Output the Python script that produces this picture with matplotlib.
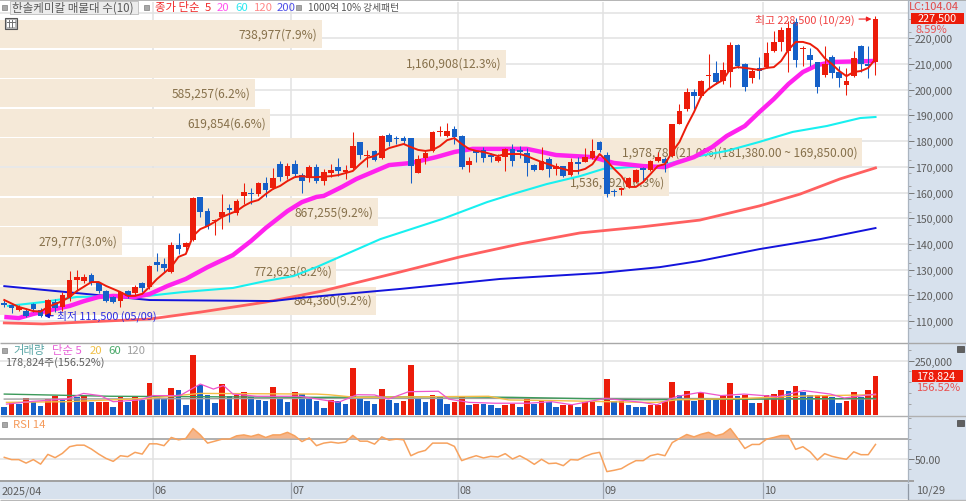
import numpy as np
import matplotlib
matplotlib.use('Agg')
import matplotlib.pyplot as plt
from matplotlib.patches import Rectangle

plt.rcParams['font.family'] = ['Noto Sans CJK KR', 'DejaVu Sans']

# ---- candles, thousands of won ----
opens = [116.8,116.3,114.3,113.9,116.6,114.3,112.0,117.4,115.5,119.4,126.0,125.6,128.0,124.8,121.7,119.4,117.8,121.7,120.9,124.8,123.3,
         133.0,132.2,129.1,139.6,138.8,141.6,158.3,152.8,148.9,150.5,154.0,152.0,158.7,159.8,159.4,163.7,161.8,171.1,166.4,171.1,166.8,165.7,169.9,
         164.5,167.6,169.9,168.0,169.6,179.7,174.2,176.2,173.5,182.4,181.2,181.2,181.2,167.6,173.5,176.2,183.5,182.0,184.7,182.0,170.7,176.2,
         176.6,174.6,172.3,173.8,176.9,176.6,175.4,170.7,168.8,173.1,169.2,170.3,166.8,171.5,171.9,173.5,179.7,174.6,160.6,161.0,162.2,164.1,169.2,168.8,172.3,
         173.1,174.2,186.7,192.5,199.1,197.6,205.3,206.5,203.4,206.9,217.4,210.0,204.6,208.5,208.8,215.1,218.6,215.1,226.4,215.8,213.5,210.8,205.7,212.7,206.9,
         201.8,205.3,217.0,210.0,210.8]
closes = [116.4,115.1,115.5,112.0,114.7,112.0,118.2,115.1,120.2,126.0,127.2,127.2,124.8,121.7,117.8,117.4,121.3,119.8,123.3,122.9,131.4,
          131.8,130.7,139.6,138.0,140.4,157.9,152.4,147.0,149.3,152.4,153.2,156.7,160.2,159.4,163.7,161.0,165.7,166.0,170.3,167.2,164.5,169.9,164.5,
          168.0,168.8,168.4,168.4,178.1,174.6,174.6,172.7,182.0,179.7,180.8,180.0,170.3,173.1,175.4,183.6,183.9,184.0,181.6,169.9,172.3,175.4,
          173.5,173.8,173.8,176.9,172.3,175.8,171.5,168.8,172.3,169.2,170.3,166.4,171.9,171.1,173.8,176.2,176.6,159.4,160.2,161.4,165.7,168.8,168.8,172.3,173.8,
          171.5,186.7,191.7,199.1,197.6,203.4,205.7,203.0,207.7,217.4,209.2,201.1,207.3,207.3,214.3,218.6,223.2,224.0,211.6,216.2,211.6,201.1,210.0,206.5,204.6,
          203.4,212.3,210.0,209.2,227.5]
highs = [118.6,116.6,116.3,115.1,117.0,115.1,118.6,118.6,121.3,129.5,129.9,128.3,128.7,125.2,122.1,119.8,121.7,122.1,124.0,125.2,131.8,
         136.5,134.5,140.8,144.3,140.8,158.3,158.3,154.0,149.7,159.4,155.6,157.5,163.7,161.8,164.1,166.0,169.6,172.3,171.5,172.7,167.6,170.7,171.1,
         169.2,171.1,173.4,170.7,183.6,179.7,176.6,176.6,182.4,183.2,182.0,182.0,181.2,174.6,176.6,184.0,185.9,187.1,185.9,182.4,173.8,176.2,
         177.7,175.4,175.0,177.3,178.9,178.1,177.3,171.1,177.7,173.8,171.5,170.3,173.4,173.8,177.3,180.8,180.1,175.8,161.4,162.2,166.0,169.2,170.0,172.7,175.8,
         173.8,186.7,194.5,200.7,200.3,203.8,213.9,211.2,210.8,218.6,217.8,210.4,208.5,212.7,218.6,222.8,224.4,226.7,228.0,217.0,216.2,210.8,217.0,213.5,209.2,
         208.5,215.1,217.4,217.0,228.5]
lows = [115.5,113.2,113.9,111.6,113.5,111.5,111.5,113.5,113.9,117.8,121.7,124.8,124.0,120.9,117.4,117.0,115.5,119.0,120.2,121.3,122.5,
        129.5,129.1,128.7,136.1,136.9,141.2,150.5,145.8,143.5,145.8,148.6,151.3,155.6,155.6,158.7,158.3,161.4,164.5,165.3,166.0,159.8,164.1,163.7,
        162.9,166.0,166.4,165.3,169.2,173.1,169.9,172.3,173.1,178.1,178.9,178.9,163.7,167.6,171.1,175.8,182.0,181.6,178.9,169.2,168.0,171.9,
        171.9,171.9,171.9,168.4,170.3,173.5,166.4,168.4,168.8,166.0,166.8,166.0,166.4,167.2,171.9,173.1,175.8,158.3,158.7,159.1,161.8,163.7,164.5,168.4,171.9,
        168.0,173.8,186.7,191.7,192.5,197.2,200.3,202.2,202.2,201.1,208.5,199.5,202.6,204.2,208.5,214.7,215.1,206.9,208.8,209.2,209.2,198.7,205.0,204.6,201.1,
        198.0,205.0,206.9,204.6,205.7]

# ---- price moving averages: anchors (index, thousands) ----
ma5_i = [0,2,4,5,6,8,9,10,12,13,14,15,16,17,18,19,20,21,23,24,25,26,27,28,29,30,31,32,33,34,35,36,37,38,39,40,41,42,43,45,46,47,48,49,50,51,52,53,54,55,56,57,58,59,60,61,62,63,64,65,66,67,68,69,70,71,72,73,74,75,76,77,78,79,80,81,82,83,84,85,86,87,88,89,90,91,92,93,94,95,96,97,98,99,100,101,102,103,104,105,106,107,108,109,110,111,112,113,114,115,116,117,118,119,120]
ma5_v = [118.2,115.5,113.9,113.7,115.5,117.8,119.4,121.7,125.2,125.2,123.7,122.5,121.3,119.8,119.8,120.6,123.3,126.3,131.1,135.0,136.1,143.1,145.8,147.0,148.6,150.5,151.7,152.8,154.8,156.3,157.1,159.4,161.4,162.6,164.5,166.0,166.4,166.0,166.0,166.4,166.8,167.6,168.4,171.1,173.5,174.2,175.8,177.3,178.1,178.9,177.7,176.6,176.2,176.6,178.1,180.4,181.2,178.9,177.0,176.2,175.8,175.0,174.2,175.0,175.0,175.0,174.2,173.0,171.9,171.0,169.9,169.2,168.4,168.4,169.2,171.0,175.0,172.3,169.2,166.4,162.2,162.2,164.1,167.2,170.3,171.1,175.8,179.7,185.9,191.3,197.6,200.3,202.2,203.8,208.1,208.8,208.5,208.1,207.7,208.5,208.8,211.2,215.5,218.6,218.6,217.8,215.8,212.3,210.0,207.3,205.3,206.9,207.3,208.5,212.0]
ma20_i = [0,2,4,7,9,11,13,15,18,20,22.5,25,28,31.5,34,36,39,41,43,44,46.5,48.5,53,56,59.5,62,64.5,72,76,81,84,88,91,92.5,95,97.5,99.5,102,104,106,108,110,112,114,120]
ma20_v = [111.6,111.2,112.8,114.7,115.9,117.8,119.4,119.8,119.4,120.5,123.7,126.4,131.0,135.7,141.2,146.2,152.8,156.3,158.3,158.7,162.2,165.3,170.7,171.5,173.8,175.8,177.0,177.0,174.6,173.8,171.5,170.3,169.9,171.5,173.8,177.7,182.0,185.9,191.3,196.4,202.2,206.9,209.6,210.8,211.2]
ma60_i = [0.5,5.3,10,19.7,24.6,31.5,36,39.8,43,51.8,60.3,66.5,70,74.7,79.3,82.5,86.2,90.3,94.9,99.5,104,108.6,113.3,117.9,120]
ma60_v = [115.9,117.4,119.4,119.8,121.3,122.9,125.6,127.5,131.0,141.9,149.7,156.3,159.4,163.3,166.4,169.2,169.9,170.3,173.8,176.2,179.7,183.6,185.9,189.0,189.4]
ma120_i = [0,5.3,20,27,36,43.8,54.5,62.8,71,79.3,87.6,95.8,104,109.6,115.1,120]
ma120_v = [109.3,108.9,110.8,113.5,117.4,121.7,129.1,135.0,140.0,144.3,146.6,149.3,154.8,159.4,165.3,169.6]
ma200_i = [0,20,37,40.7,54.5,68.3,82,90.3,95.8,104,112.4,120]
ma200_v = [123.6,118.2,117.8,119.0,122.5,126.4,128.7,131.0,133.4,138.0,141.9,146.2]

# ---- price-band volume profile ----
vp_vol = [738977,1160908,585257,619854,1978787,1536792,867255,279777,772625,864360]
vp_pct = ['7.9','12.3','6.2','6.6','21.0','16.3','9.2','3.0','8.2','9.2']
vp_mid = [221.7,210.2,198.7,187.1,175.6,164.1,152.6,141.0,129.5,118.0]
vp_range = {4: '(181,380.00 ~ 169,850.00)'}

# ---- volume, thousands of shares ----
volumes = [38,58,50,78,61,43,73,86,69,165,84,89,58,58,58,38,81,61,81,69,145,86,73,124,116,47,277,138,92,55,141,89,92,104,81,69,63,127,80,58,104,96,73,63,31,
           70,66,50,214,78,63,50,119,69,55,63,231,78,58,92,81,50,58,81,46,50,49,48,31,46,50,38,78,50,66,58,38,47,48,38,58,58,43,165,63,66,46,38,35,
           46,47,63,150,92,112,66,101,76,73,86,145,89,93,55,55,93,96,116,112,133,104,93,93,93,84,55,63,104,81,116,178.824]
vma5_i = [0.3,4,8.6,10.9,13.2,15,18.7,20.5,24.2,27,28.8,30.2,31.5,34.8,40.7,46,48.6,51,52.9,55.7,59.8,61.2,64,67.6,72.2,75.4,78.2,82.8,87.8,89.9,92.7,95.9,98.7,101.9,106.5,110.1,113.8,115.7,120]
vma5_v = [50,63,73,99,89,61,69,89,89,142,119,135,96,86,86,58,93,92,73,107,109,73,58,54,54,61,47,76,58,47,86,104,89,96,84,112,96,78,96]
vma20_i = [0.3,8.6,19.6,27,43,44.7,48.4,66.7,69.5,75.9,87.8,89.9,92.7,101.9,108.8,120]
vma20_v = [58,61,76,99,96,93,81,86,69,66,58,58,70,76,86,93]
vma60_i = [0,14.6,43,60,70,88,120]
vma60_v = [96,86,81,84,81,70,76]
vma120_i = [0,43,88,120]
vma120_v = [73,76,76,74]

# ---- RSI ----
rsi = [51.6,49.4,49.4,46,49.4,45,54.5,51.3,55.5,62,63.5,63.5,59.7,54.8,50.6,47.7,53.2,52.3,56.5,54.8,64.8,64.8,63,71,68.7,70,79.7,73.5,65.5,67.4,69.4,69.4,72.6,73.5,72,74,71,73.5,73.5,76,72.6,67,70.6,63,65.5,
       66.5,65.5,66.5,73,67.4,67.4,64.5,71.6,68.4,69.4,68.7,53.2,56.5,58.4,65.5,65.5,65.5,62.3,48.4,51,53.2,51,52.6,52,55.2,50,53.2,49.4,44.8,49.7,45.5,46,43.5,49.4,49,52.6,55.2,56.5,37.7,39,40.6,44.8,48.4,48.4,
       53.2,54.8,53.2,66,70,73.9,71.6,74.2,76,72.6,74.5,79.7,70.3,60.3,64.2,64.2,69.4,71,72.9,72.9,59.4,62,57,49,55.2,52.6,51,49.7,57,54.2,54.2,64.2]

price_ticks = [110,120,130,140,150,160,170,180,190,200,210,220]
price_grid_extra = [230]
month_pos = [20.5,39.5,62.5,82.5,104.5]
month_labels = ['06','07','08','09','10']

# ---- colours and layout (pixels of a 966 x 502 canvas) ----
RED = '#ec1c0a'; BLUE = '#1560c8'; GRID = '#e2e2e2'; BEIGE = '#f5e9d8'; PANEL = '#d7e1ed'; FRAME = '#a8a8a8'
TXT = '#5c5c5c'; BROWN = '#86704a'
W, H = 966, 502
X0, DX = 4.3, 7.26
PLOT_R = 908
ROW = 28 / 2.57

fig = plt.figure(figsize=(W/100, H/100), dpi=100, facecolor='white')
def pos(x0, y0, x1, y1):
    return [x0/W, 1 - y1/H, (x1-x0)/W, (y1-y0)/H]

fig.patches.append(Rectangle((PLOT_R/W, 0), 1-PLOT_R/W, 1, transform=fig.transFigure, fc=PANEL, ec='none', zorder=0))
fig.patches.append(Rectangle((0, 1-500/H), 1, (500-483)/H, transform=fig.transFigure, fc=PANEL, ec='none', zorder=0))

xlim = ((0-X0)/DX, (PLOT_R-X0)/DX)
def p_at(y):
    return 235.3 - 0.389*y
ylim = (p_at(343), p_at(3))

# background grid layer
ax_bg = fig.add_axes(pos(0, 3, PLOT_R, 343), zorder=1, facecolor='white')
ax_bg.set_xlim(xlim); ax_bg.set_ylim(ylim)
for v in price_ticks + price_grid_extra:
    ax_bg.axhline(v, color=GRID, lw=1.1, zorder=0)
for m in month_pos:
    ax_bg.axvline(m, color=GRID, lw=1.1, zorder=0)
ax_bg.set_xticks([]); ax_bg.set_yticks([])
for s in ax_bg.spines.values():
    s.set_visible(False)

# volume-profile layer
ax_vp = fig.add_axes(pos(0, 3, PLOT_R, 343), zorder=2, facecolor='none')
ax_vp.set_xlim(0, PLOT_R/0.4355*1000); ax_vp.set_ylim(ylim)
ax_vp.barh(vp_mid, vp_vol, height=ROW, color=BEIGE, edgecolor='none', zorder=1)
for v, pct, m, k in zip(vp_vol, vp_pct, vp_mid, range(len(vp_vol))):
    s = f'{v:,}({pct}%)' + vp_range.get(k, '')
    ax_vp.annotate(s, xy=(v, m), xytext=(-3, 0), textcoords='offset points', ha='right', va='center',
                   fontsize=8.6, color=BROWN, fontweight='medium', zorder=2)
ax_vp.axis('off')

# price layer
ax = fig.add_axes(pos(0, 3, PLOT_R, 343), zorder=3, facecolor='none')
ax.set_xlim(xlim); ax.set_ylim(ylim)
ax.plot(ma120_i, ma120_v, color='#ff6060', lw=2.0, zorder=2)
ax.plot(ma200_i, ma200_v, color='#1414dc', lw=1.4, zorder=2)
ax.plot(ma60_i, ma60_v, color='#18f0f0', lw=1.5, zorder=2)
ax.plot(ma20_i, ma20_v, color='#ff22ee', lw=3.2, zorder=3, solid_capstyle='butt')

idx = np.arange(len(opens))
o, c, h, l = map(np.array, (opens, closes, highs, lows))
up = c >= o
cols = np.where(up, RED, BLUE)
ax.vlines(idx, l, h, colors=cols, lw=0.75, zorder=4)
body = np.maximum(np.abs(c-o), 0.6)
ax.bar(idx, body, bottom=np.minimum(o, c), width=0.78, color=cols, edgecolor='none', zorder=5)
ax.plot(ma5_i, ma5_v, color='#ec1c0a', lw=1.4, zorder=6)

ax.yaxis.tick_right()
ax.set_yticks(price_ticks)
ax.set_yticklabels([f'{v*1000:,}' for v in price_ticks], fontsize=7.6, color=TXT)
ax.set_yticks(np.arange(107.5, 230, 5), minor=True)
ax.tick_params(axis='y', which='major', length=4, width=0.7, color='#777', pad=1)
ax.tick_params(axis='y', which='minor', length=2, width=0.6, color='#999')
ax.set_xticks([])
for s in ax.spines.values():
    s.set_visible(False)

i_hi = int(np.argmax(h)); i_lo = int(np.argmin(l))
ax.annotate(f'최고 {h[i_hi]*1000:,.0f} (10/29)', xy=(i_hi-0.55, c[i_hi]), xytext=(-12, 0), textcoords='offset points',
            ha='right', va='center', fontsize=7.8, color='#f04040', zorder=8,
            arrowprops=dict(arrowstyle='-|>', color='#f02020', lw=0.8, shrinkA=1, shrinkB=0, mutation_scale=7))
ax.annotate(f'최저 {l[i_lo]*1000:,.0f} (05/09)', xy=(i_lo+0.5, l[i_lo]+0.6), xytext=(9.5, 0), textcoords='offset points',
            ha='left', va='center', fontsize=7.8, color='#2a2ae0', zorder=8,
            arrowprops=dict(arrowstyle='-|>', color='#1010d0', lw=0.8, shrinkA=1, shrinkB=0, mutation_scale=7))

# volume panel
ax_v = fig.add_axes(pos(0, 344, PLOT_R, 416), zorder=3, facecolor='white')
ax_v.set_xlim(xlim)
ax_v.set_ylim(0, 72/0.218)
for m in month_pos:
    ax_v.axvline(m, color=GRID, lw=1.1, zorder=0)
ax_v.axhline(250, color=GRID, lw=1.1, zorder=0)
vol = np.array(volumes)
vcols = [RED if k > 0 and vol[k] >= vol[k-1] else BLUE for k in range(len(vol))]
ax_v.bar(idx, vol, width=0.78, color=vcols, edgecolor='none', zorder=2)
ax_v.plot(vma120_i, vma120_v, color='#a0a0a0', lw=1.0, zorder=3)
ax_v.plot(vma60_i, vma60_v, color='#3c9a5a', lw=1.0, zorder=3)
ax_v.plot(vma20_i, vma20_v, color='#f5bd45', lw=1.0, zorder=3)
ax_v.plot(vma5_i, vma5_v, color='#ee55cc', lw=0.9, zorder=3)
ax_v.yaxis.tick_right()
ax_v.set_yticks([250])
ax_v.set_yticklabels(['250,000'], fontsize=7.6, color=TXT)
ax_v.set_yticks([50,100,150,200,300], minor=True)
ax_v.tick_params(axis='y', which='major', length=4, width=0.7, color='#777', pad=1)
ax_v.tick_params(axis='y', which='minor', length=2, width=0.6, color='#999')
ax_v.set_xticks([])
for s in ax_v.spines.values():
    s.set_visible(False)

# RSI panel
ax_r = fig.add_axes(pos(0, 418, PLOT_R, 481), zorder=3, facecolor='white')
ax_r.set_xlim(xlim)
ax_r.set_ylim(50-21/1.025, 70+21.5/1.025)
for m in month_pos:
    ax_r.axvline(m, color=GRID, lw=1.1, zorder=0)
ax_r.axhline(50, color=GRID, lw=1.1, zorder=0)
ax_r.axhline(70, color='#9a9a9a', lw=1.1, zorder=1)
rsi_arr = np.array(rsi)
xf = np.linspace(0, len(rsi_arr)-1, 1201)
yf = np.interp(xf, idx, rsi_arr)
ax_r.fill_between(xf, 70, yf, where=yf >= 70, color='#f5b68c', lw=0, zorder=2)
ax_r.plot(idx, rsi_arr, color='#f7a25e', lw=1.1, zorder=3)
ax_r.yaxis.tick_right()
ax_r.set_yticks([50])
ax_r.set_yticklabels(['50.00'], fontsize=7.6, color=TXT)
ax_r.set_yticks([30,40,60,70,80,90], minor=True)
ax_r.tick_params(axis='y', which='major', length=4, width=0.7, color='#777', pad=1)
ax_r.tick_params(axis='y', which='minor', length=2, width=0.6, color='#999')
ax_r.set_xticks([])
for s in ax_r.spines.values():
    s.set_visible(False)

# month axis
ax_x = fig.add_axes(pos(0, 483, PLOT_R, 500), zorder=3, facecolor='none')
ax_x.set_xlim(xlim); ax_x.set_ylim(0, 1)
ax_x.vlines(month_pos, 0, 1, colors='#a0a8b4', lw=0.9)
for m, lab in zip(month_pos, month_labels):
    ax_x.annotate(lab, xy=(m, 0.5), xytext=(1, 0), textcoords='offset points', ha='left', va='center', fontsize=7.8, color=TXT)
ax_x.annotate('2025/04', xy=(xlim[0], 0.5), xytext=(1, 0), textcoords='offset points', ha='left', va='center', fontsize=7.8, color=TXT)
ax_x.axis('off')

# chrome overlay in canvas pixels
ov = fig.add_axes([0, 0, 1, 1], zorder=9, facecolor='none')
ov.set_xlim(0, W); ov.set_ylim(H, 0); ov.axis('off')
for y, x0, x1, col, lw in [(1, 0, W, '#a0a0a0', 1.1), (343.5, 0, W, FRAME, 1.0), (416.8, 0, W, '#b0b0b0', 1.0),
                           (482.2, 0, PLOT_R+6, '#a0a0a0', 1.4), (500.5, 0, W, '#b8b8b8', 1.0)]:
    ov.plot([x0, x1], [y, y], color=col, lw=lw, solid_capstyle='butt')
ov.plot([PLOT_R, PLOT_R], [0, 483], color='#aab4c0', lw=0.9)
ov.plot([PLOT_R, PLOT_R], [485, 500], color='#8f98a4', lw=0.9)

def sq(x, y, s=5, fc='#a8a8a8', ec='#808080'):
    ov.add_patch(Rectangle((x-s/2, y-s/2), s, s, fc=fc, ec=ec, lw=0.5))
def t(x, y, s, col, size=8.2, ha='left', **kw):
    ov.text(x, y, s, color=col, fontsize=size, ha=ha, va='center', **kw)

sq(4.5, 8)
ov.add_patch(Rectangle((9.5, 1.5), 128, 13, fc='#ececec', ec='#c4c4c4', lw=0.7))
t(12, 8, '한솔케미칼 매물대 수(10)', '#5a5a5a', 8.3)
sq(146.5, 8)
t(155, 8, '종가 단순', '#f02828', 8.2)
t(205, 8, '5', '#f02828', 8.2)
t(217, 8, '20', '#ff55ee', 8.2)
t(235, 8, '60', '#30e8f0', 8.2)
t(254, 8, '120', '#ff8888', 8.2)
t(277, 8, '200', '#5050e8', 8.2)
sq(298.5, 8)
t(308, 8, '1000억 10% 강세패턴', '#555555', 7.0)

# small table icon
ov.add_patch(Rectangle((4.5, 18.5), 12, 11, fc='#b8b8b8', ec='#555555', lw=0.8))
ov.add_patch(Rectangle((6.5, 20.5), 8, 7, fc='white', ec='none'))
for xx in (9, 12):
    ov.plot([xx, xx], [20.5, 27.5], color='#707070', lw=0.7)
ov.plot([6.5, 14.5], [23, 23], color='#707070', lw=0.7)

# right panel readouts
t(909, 7, 'LC:104.04', '#e24848', 8.0)
ov.add_patch(Rectangle((911, 13.5), 53, 11, fc=RED, ec='none'))
t(937, 19, f'{closes[-1]*1000:,.0f}', 'white', 7.8, ha='center')
t(915, 30, '8.59%', '#e85050', 8.0)
ov.add_patch(Rectangle((912, 371), 51, 11.5, fc=RED, ec='none'))
t(916, 376.5, f'{volumes[-1]*1000:,.0f}', 'white', 7.8)
t(916, 388, '156.52%', '#e85050', 8.0)
t(916, 491, '10/29', TXT, 8.0)
for yy in (350, 424):
    ov.add_patch(Rectangle((957, yy-3), 7, 6, fc='#606060', ec='#444444', lw=0.5))

# volume & RSI titles
sq(4.5, 351)
t(13, 351, '거래량', '#5aa6a6', 8.2)
t(52, 351, '단순 5', '#e860d8', 8.2)
t(90, 351, '20', '#f0c048', 8.2)
t(108, 351, '60', '#48a868', 8.2)
t(127, 351, '120', '#a0a0a0', 8.2)
t(5, 363, '178,824주(156.52%)', '#606060', 7.8)
sq(4.5, 425)
t(13, 425, 'RSI 14', '#f59a5a', 8.2)

fig.savefig('out.png', dpi=100, facecolor='white')
